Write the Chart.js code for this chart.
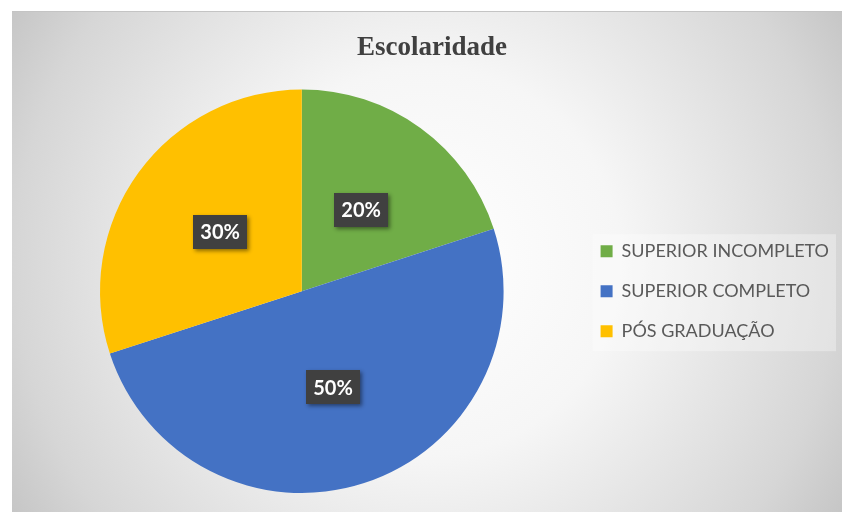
<!DOCTYPE html>
<html>
<head>
<meta charset="utf-8">
<script src="https://cdn.jsdelivr.net/npm/chart.js@4/dist/chart.umd.min.js"></script>
<style>
  html, body { margin: 0; padding: 0; background: #ffffff; }
  #wrap { position: absolute; left: 12px; top: 11px; width: 830px; height: 501px; }
</style>
</head>
<body>
<div id="wrap"><canvas id="c" width="830" height="501"></canvas></div>
<script>
const titleText = 'Escolaridade';
const categories = ['SUPERIOR INCOMPLETO', 'SUPERIOR COMPLETO', 'PÓS GRADUAÇÃO'];
const values = [20, 50, 30];
const sliceColors = ['#70AD47', '#4472C4', '#FFC000'];

const bgPlugin = {
  id: 'bg',
  beforeDraw(chart) {
    const ctx = chart.ctx, w = chart.width, h = chart.height;
    ctx.save();
    const g = ctx.createRadialGradient(w / 2, h / 2, 0, w / 2, h / 2, Math.hypot(w / 2, h / 2));
    g.addColorStop(0, '#ffffff');
    g.addColorStop(0.4, '#f6f6f6');
    g.addColorStop(0.85, '#d6d6d6');
    g.addColorStop(1, '#c6c6c6');
    ctx.fillStyle = g;
    ctx.fillRect(0, 0, w, h);
    ctx.fillStyle = '#c4c4c4';
    ctx.fillRect(0, 0, w, 1);
    // legend backdrop
    const lg = chart.legend;
    if (lg && lg.legendHitBoxes && lg.legendHitBoxes.length) {
      const hb = lg.legendHitBoxes;
      const first = hb[0], last = hb[hb.length - 1];
      const left = first.left - 8;
      const top = first.top + first.height / 2 - 17;
      const bottom = last.top + last.height / 2 + 20;
      const right = w - 6;
      ctx.fillStyle = 'rgba(255,255,255,0.32)';
      ctx.fillRect(left, top, right - left, bottom - top);
    }
    ctx.restore();
  }
};

const labelPlugin = {
  id: 'pctLabels',
  afterDatasetsDraw(chart) {
    const ctx = chart.ctx;
    const meta = chart.getDatasetMeta(0);
    ctx.save();
    meta.data.forEach((arc, i) => {
      const p = arc.tooltipPosition();
      const bw = 54, bh = 34;
      ctx.shadowColor = 'rgba(0,0,0,0.45)';
      ctx.shadowBlur = 4;
      ctx.shadowOffsetX = 2;
      ctx.shadowOffsetY = 2;
      ctx.fillStyle = '#404040';
      ctx.fillRect(Math.round(p.x - bw / 2), Math.round(p.y - bh / 2), bw, bh);
      ctx.shadowColor = 'transparent';
      ctx.fillStyle = '#ffffff';
      ctx.font = 'bold 20px Lato, "Open Sans", sans-serif';
      ctx.textAlign = 'center';
      ctx.textBaseline = 'middle';
      ctx.fillText(values[i] + '%', p.x, p.y + 1);
    });
    ctx.restore();
  }
};

new Chart(document.getElementById('c'), {
  type: 'pie',
  data: {
    labels: categories,
    datasets: [{
      data: values,
      backgroundColor: sliceColors,
      borderWidth: 0
    }]
  },
  options: {
    responsive: false,
    animation: false,
    devicePixelRatio: 1,
    layout: { padding: { left: 13, right: 3, top: 0, bottom: 19 } },
    plugins: {
      title: {
        display: true,
        text: titleText,
        color: '#404040',
        font: { family: '"Liberation Serif", "Times New Roman", serif', size: 27, weight: 'bold' },
        padding: { top: 21, bottom: 25 }
      },
      legend: {
        position: 'right',
        fullSize: false,
        labels: {
          color: '#595959',
          font: { family: 'Lato, "Open Sans", sans-serif', size: 18 },
          boxWidth: 12,
          boxHeight: 12,
          padding: 22
        }
      },
      tooltip: { enabled: false }
    }
  },
  plugins: [bgPlugin, labelPlugin]
});
</script>
</body>
</html>
